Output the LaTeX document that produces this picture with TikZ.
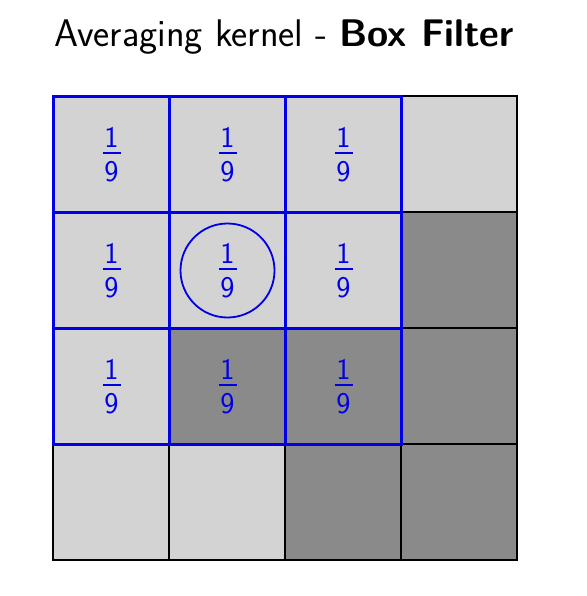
\documentclass[tikz,border=0pt]{standalone}
\definecolor{lightcell}{RGB}{211,211,211}
\definecolor{darkcell}{RGB}{138,138,138}
\definecolor{kblue}{RGB}{0,0,230}
\newcommand\ninthfrac{\vbox{\offinterlineskip\halign{\hfil##\hfil\cr 1\cr\noalign{\kern5pt}\rule{18pt}{1.8pt}\cr\noalign{\kern7pt}9\cr}}}
\begin{document}
\begin{tikzpicture}[x=1pt,y=-1pt,
  cell/.style={draw=black,line width=1.8pt,minimum size=116pt,inner sep=0pt,anchor=north west},
  light/.style={cell,fill=lightcell},
  dark/.style={cell,fill=darkcell},
  kcell/.style={draw=kblue,line width=3pt,minimum size=116pt,inner sep=0pt,anchor=north west,text=kblue,font=\sffamily\fontsize{30}{36}\selectfont},
  ring/.style={draw=kblue,line width=1.8pt,circle,minimum size=94pt,inner sep=0pt}]
\useasboundingbox (0,0) rectangle (586,596);
\node[font=\sffamily\fontsize{38.5}{44}\selectfont,anchor=base] (title) at (284,47) {Averaging kernel - \textbf{Box Filter}};
% base grid
\node[light] (c00) at (52,95) {};
\node[light] (c01) at (168,95) {};
\node[light] (c02) at (284,95) {};
\node[light] (c03) at (400,95) {};
\node[light] (c10) at (52,211) {};
\node[light] (c11) at (168,211) {};
\node[light] (c12) at (284,211) {};
\node[dark] (c13) at (400,211) {};
\node[light] (c20) at (52,327) {};
\node[dark] (c21) at (168,327) {};
\node[dark] (c22) at (284,327) {};
\node[dark] (c23) at (400,327) {};
\node[light] (c30) at (52,443) {};
\node[light] (c31) at (168,443) {};
\node[dark] (c32) at (284,443) {};
\node[dark] (c33) at (400,443) {};
% kernel
\foreach \r/\yy in {0/95,1/211,2/327}{
  \foreach \c/\xx in {0/52,1/168,2/284}{
    \node[kcell] (k\r\c) at (\xx,\yy) {\ninthfrac};
  }
}
\node[ring] (ring) at (k11.center) {};
\end{tikzpicture}
\end{document}
